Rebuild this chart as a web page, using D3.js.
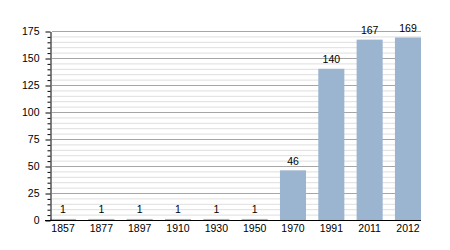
<!DOCTYPE html>
<html><head><meta charset="utf-8">
<script src="https://cdn.jsdelivr.net/npm/d3@7"></script>
<style>body{margin:0;background:#fff;} text{font-family:"Liberation Sans",Arial,sans-serif;}</style>
</head><body>
<svg id="c" width="450" height="250"></svg>
<script>
const years = ["1857","1877","1897","1910","1930","1950","1970","1991","2011","2012"];
const population = [1,1,1,1,1,1,46,140,167,169];
const yTicks = [0,25,50,75,100,125,150,175];

const svg = d3.select("#c");
const m = {l:50, r:29, t:31, b:30};
const W = 450, H = 250;
const FS = 10.5;
const x = d3.scaleBand().domain(years).range([m.l, W - m.r]).paddingInner(0.32).paddingOuter(0);
const y = d3.scaleLinear().domain([0,175]).range([H - m.b, m.t]);

const minor = d3.range(0, 176, 5).filter(v => v % 25 !== 0);
// minor grid
svg.append("g").selectAll("line").data(minor).join("line")
  .attr("x1", m.l + 2).attr("x2", W - m.r)
  .attr("y1", d => y(d) + 0.5).attr("y2", d => y(d) + 0.5)
  .attr("stroke", "#dedede").attr("stroke-width", 1);
// major grid
svg.append("g").selectAll("line").data(yTicks.filter(v => v > 0)).join("line")
  .attr("x1", m.l + 2).attr("x2", W - m.r)
  .attr("y1", d => y(d) + 0.5).attr("y2", d => y(d) + 0.5)
  .attr("stroke", "#a6a6a6").attr("stroke-width", 1);

// bars
svg.append("g").selectAll("rect").data(years).join("rect")
  .attr("x", d => x(d)).attr("width", x.bandwidth())
  .attr("y", (d,i) => y(population[i])).attr("height", (d,i) => y(0) - y(population[i]))
  .attr("fill", "#9bb4cf");

// value labels
svg.append("g").selectAll("text").data(years).join("text")
  .attr("x", d => x(d) + x.bandwidth()/2)
  .attr("y", (d,i) => y(population[i]) - 5.5)
  .attr("text-anchor", "middle").attr("font-size", FS).attr("fill", "#000")
  .text((d,i) => population[i]);

// y axis minor ticks
svg.append("g").attr("transform", `translate(${m.l + 0.5},0.5)`)
  .call(d3.axisLeft(y).tickValues(minor).tickSize(3).tickFormat(""))
  .call(g => g.select(".domain").remove());
// y axis major
svg.append("g").attr("transform", `translate(${m.l + 0.5},0.5)`)
  .call(d3.axisLeft(y).tickValues(yTicks).tickSize(5).tickSizeOuter(0).tickPadding(6))
  .call(g => g.selectAll("text").attr("font-size", FS).attr("font-family", "Liberation Sans, Arial, sans-serif"));

// x axis
svg.append("g").attr("transform", `translate(0,${y(0) + 0.5})`)
  .call(d3.axisBottom(x).tickSize(0).tickSizeOuter(0).tickPadding(4))
  .call(g => g.select(".domain").attr("d", `M${m.l - 5},0H${W - m.r}`))
  .call(g => g.selectAll("text").attr("font-size", FS).attr("font-family", "Liberation Sans, Arial, sans-serif"));
</script>
</body></html>
